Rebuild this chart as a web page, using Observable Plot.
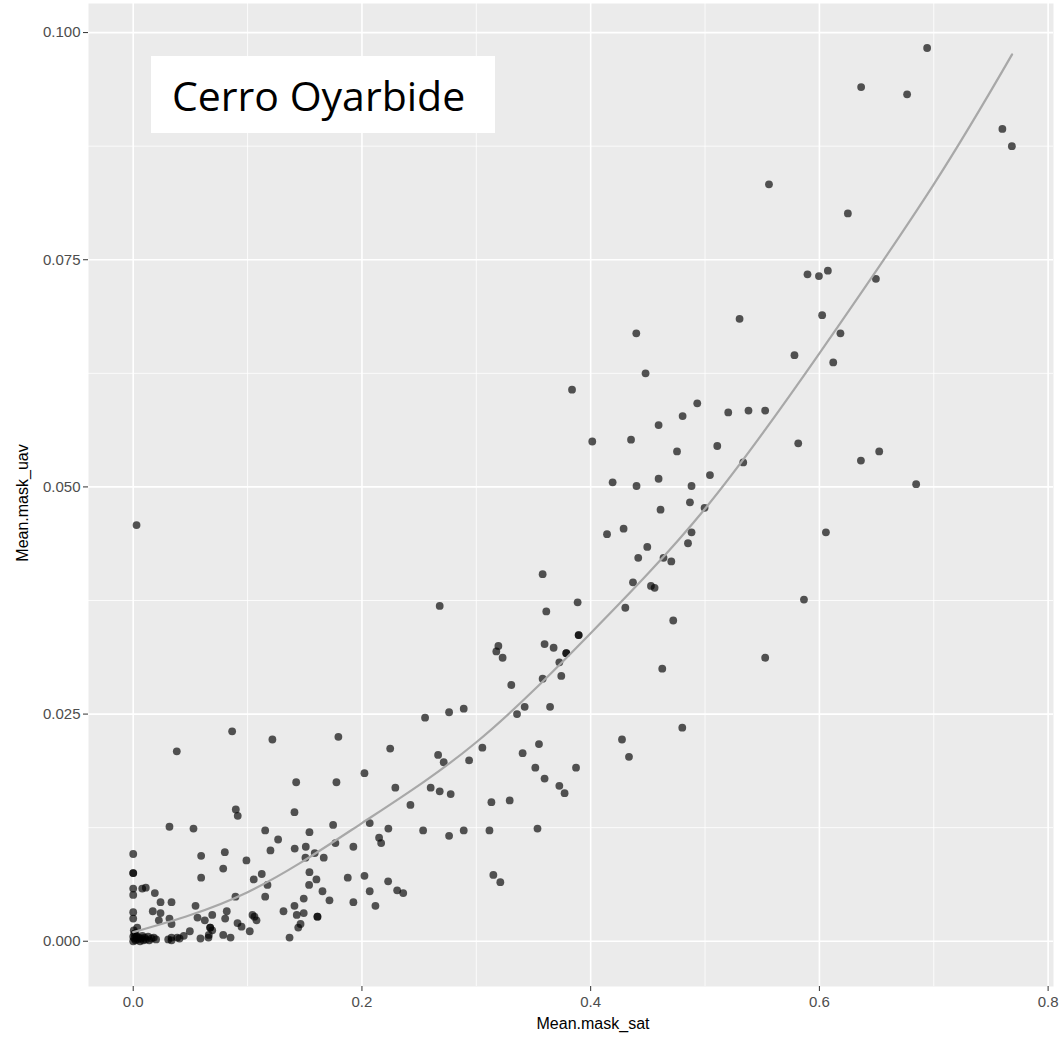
<!DOCTYPE html>
<html>
<head>
<meta charset="utf-8">
<script src="https://cdn.jsdelivr.net/npm/d3@7"></script>
<script src="https://cdn.jsdelivr.net/npm/@observablehq/plot@0.6"></script>
<style>
  html, body { margin: 0; padding: 0; background: #ffffff; }
  #wrap { position: relative; width: 1064px; height: 1041px; }
  #title-box { position: absolute; left: 151px; top: 56px; width: 344px; height: 77px; background: #ffffff; }
  #title-box span { position: absolute; left: 21px; top: 19px; font-family: "Open Sans", sans-serif; font-size: 41px; line-height: 40px; color: #000; white-space: nowrap; }
</style>
</head>
<body>
<div id="wrap"></div>
<script>
// Mean.mask_sat (x) and Mean.mask_uav (y)
const satX = [
  0.6942,0.6365,0.6767,0.7600,0.7683,0.5559,0.6249,0.5896,0.5996,0.6074,
  0.6494,0.5302,0.6024,0.4399,0.6184,0.5782,0.6121,0.4480,0.3837,0.4932,
  0.4804,0.5203,0.5380,0.5526,0.4594,0.4014,0.4353,0.5107,0.4755,0.5815,
  0.6363,0.6523,0.5334,0.4192,0.4401,0.4594,0.4882,0.5043,0.6846,0.4611,
  0.4868,0.4996,0.4143,0.4288,0.4882,0.4851,0.4495,0.4416,0.4637,0.4705,
  0.4370,0.4527,0.4559,0.3580,0.3886,0.3612,0.4303,0.4722,0.2680,0.3895,
  0.3895,0.3597,0.3676,0.3787,0.3787,0.3726,0.3193,0.3175,0.3230,0.4626,
  0.3743,0.3580,0.3306,0.2552,0.2762,0.2890,0.3423,0.3645,0.3356,0.4801,
  0.2247,0.2666,0.2715,0.2937,0.3053,0.3548,0.3405,0.4274,0.4335,0.3516,
  0.3872,0.3597,0.2292,0.2601,0.2680,0.2776,0.3726,0.3772,0.3132,0.3292,
  0.2424,0.2535,0.2762,0.2890,0.3115,0.3535,0.3149,0.3210,0.2361,0.0865,
  0.0381,0.1217,0.1794,0.2022,0.1425,0.1777,0.0897,0.0914,0.1410,0.0317,
  0.0527,0.1154,0.1541,0.1748,0.2068,0.2231,0.1267,0.2150,0.2168,0.0000,
  0.0594,0.0801,0.1200,0.1412,0.1509,0.1768,0.1925,0.0990,0.1506,0.1666,
  0.1587,0.0594,0.0787,0.1054,0.1124,0.1541,0.1602,0.1538,0.1174,0.1154,
  0.1655,0.1716,0.1876,0.2022,0.2068,0.1925,0.2118,0.2229,0.1491,0.1410,
  0.1314,0.1430,0.1491,0.1611,0.1611,0.1463,0.1443,0.1367,0.0000,0.0000,
  0.0079,0.0110,0.0000,0.0000,0.0189,0.0239,0.0335,0.0000,0.0000,0.0171,
  0.0239,0.0224,0.0317,0.0335,0.0545,0.0562,0.0691,0.0818,0.0804,0.0894,
  0.0626,0.0673,0.0673,0.0691,0.0912,0.0947,0.1060,0.1078,0.1043,0.1019,
  0.0787,0.0851,0.0658,0.0588,0.0495,0.0442,0.0385,0.0306,0.0335,0.0661,
  0.0405,0.0335,0.0035,0.0005,0.2308,0.6057,0.5865,0.5526,0.0029,0.0000,
  0.0010,0.0020,0.0030,0.0040,0.0050,0.0060,0.0070,0.0080,0.0090,0.0100,
  0.0110,0.0130,0.0140,0.0160,0.0180,0.0200,0.0010,0.0000,0.0020
];
const uavY = [
  0.0983,0.0940,0.0932,0.0894,0.0875,0.0833,0.0801,0.0734,0.0732,0.0738,
  0.0729,0.0685,0.0689,0.0669,0.0669,0.0645,0.0637,0.0625,0.0607,0.0592,
  0.0578,0.0582,0.0584,0.0584,0.0568,0.0550,0.0552,0.0545,0.0539,0.0548,
  0.0529,0.0539,0.0527,0.0505,0.0501,0.0509,0.0501,0.0513,0.0503,0.0475,
  0.0483,0.0477,0.0448,0.0454,0.0450,0.0438,0.0434,0.0422,0.0422,0.0418,
  0.0395,0.0391,0.0389,0.0404,0.0373,0.0363,0.0367,0.0353,0.0369,0.0337,
  0.0337,0.0327,0.0323,0.0317,0.0317,0.0307,0.0325,0.0319,0.0312,0.0300,
  0.0292,0.0289,0.0282,0.0246,0.0252,0.0256,0.0258,0.0258,0.0250,0.0235,
  0.0212,0.0205,0.0197,0.0199,0.0213,0.0217,0.0207,0.0222,0.0203,0.0191,
  0.0191,0.0179,0.0169,0.0169,0.0165,0.0162,0.0171,0.0163,0.0153,0.0155,
  0.0150,0.0122,0.0116,0.0122,0.0122,0.0124,0.0073,0.0065,0.0053,0.0231,
  0.0209,0.0222,0.0225,0.0185,0.0175,0.0175,0.0145,0.0138,0.0142,0.0126,
  0.0124,0.0122,0.0120,0.0128,0.0130,0.0124,0.0112,0.0114,0.0108,0.0096,
  0.0094,0.0098,0.0100,0.0102,0.0104,0.0108,0.0104,0.0089,0.0092,0.0092,
  0.0097,0.0070,0.0080,0.0068,0.0074,0.0076,0.0068,0.0062,0.0062,0.0049,
  0.0055,0.0045,0.0070,0.0072,0.0055,0.0043,0.0039,0.0066,0.0047,0.0039,
  0.0033,0.0029,0.0031,0.0027,0.0027,0.0019,0.0015,0.0004,0.0075,0.0075,
  0.0058,0.0059,0.0058,0.0051,0.0053,0.0043,0.0043,0.0032,0.0025,0.0033,
  0.0031,0.0023,0.0025,0.0019,0.0039,0.0026,0.0029,0.0033,0.0025,0.0049,
  0.0023,0.0015,0.0015,0.0012,0.0020,0.0016,0.0027,0.0023,0.0029,0.0011,
  0.0007,0.0004,0.0004,0.0003,0.0011,0.0006,0.0004,0.0002,0.0004,0.0007,
  0.0003,0.0001,0.0015,0.0012,0.0056,0.0450,0.0376,0.0312,0.0458,0.0000,
  0.0003,0.0001,0.0005,0.0002,0.0004,0.0000,0.0003,0.0006,0.0001,0.0004,
  0.0002,0.0005,0.0001,0.0003,0.0004,0.0002,0.0008,0.0005,0.0009
];
// smooth fit curve
const fitX = [0, 0.1, 0.2, 0.3, 0.4, 0.5, 0.6, 0.7, 0.7685];
const fitY = [0.0010, 0.0054, 0.0130, 0.0219, 0.0339, 0.0476, 0.0647, 0.0833, 0.0976];

const xMajor = [0, 0.2, 0.4, 0.6, 0.8];
const xMinor = [0.1, 0.3, 0.5, 0.7];
const yMajor = [0, 0.025, 0.05, 0.075, 0.1];
const yMinor = [0.0125, 0.0375, 0.0625, 0.0875];

const points = satX.map((x, i) => ({x, y: uavY[i]}));
const fit = fitX.map((x, i) => ({x, y: fitY[i]}));

const chart = Plot.plot({
  width: 1064,
  height: 1041,
  marginLeft: 88,
  marginRight: 11,
  marginTop: 3,
  marginBottom: 55,
  style: {fontFamily: "'Liberation Sans', Arial, sans-serif", background: "#ffffff", overflow: "visible"},
  x: {domain: [-0.0391, 0.8047]},
  y: {domain: [-0.00498, 0.1032]},
  marks: [
    Plot.frame({fill: "#EBEBEB", stroke: null}),
    Plot.gridX(xMinor, {stroke: "#ffffff", strokeOpacity: 1, strokeWidth: 0.8}),
    Plot.gridY(yMinor, {stroke: "#ffffff", strokeOpacity: 1, strokeWidth: 0.8}),
    Plot.gridX(xMajor, {stroke: "#ffffff", strokeOpacity: 1, strokeWidth: 1.6}),
    Plot.gridY(yMajor, {stroke: "#ffffff", strokeOpacity: 1, strokeWidth: 1.6}),
    Plot.axisX({ticks: xMajor, tickFormat: d3.format(".1f"), tickSize: 5, tickPadding: 5, stroke: "#333333",
      fill: "#4D4D4D", fontSize: 15, label: null}),
    Plot.axisY({ticks: yMajor, tickFormat: d3.format(".3f"), tickSize: 5, tickPadding: 3, stroke: "#333333",
      fill: "#4D4D4D", fontSize: 15, label: null}),
    Plot.dot(points, {x: "x", y: "y", r: 3.9, fill: "#000000", fillOpacity: 0.66, stroke: null}),
    Plot.line(fit, {x: "x", y: "y", curve: "natural", stroke: "#A8A8A8", strokeWidth: 2.2}),
    Plot.text(["Mean.mask_sat"], {frameAnchor: "bottom", dx: 22, dy: 42, fontSize: 16, fill: "#000000"}),
    Plot.text(["Mean.mask_uav"], {frameAnchor: "left", textAnchor: "middle", dx: -66, dy: 8, rotate: -90, fontSize: 16, fill: "#000000"})
  ]
});

const wrap = document.getElementById("wrap");
wrap.appendChild(chart);
const box = document.createElement("div");
box.id = "title-box";
const span = document.createElement("span");
span.textContent = "Cerro Oyarbide";
box.appendChild(span);
wrap.appendChild(box);
</script>
</body>
</html>
